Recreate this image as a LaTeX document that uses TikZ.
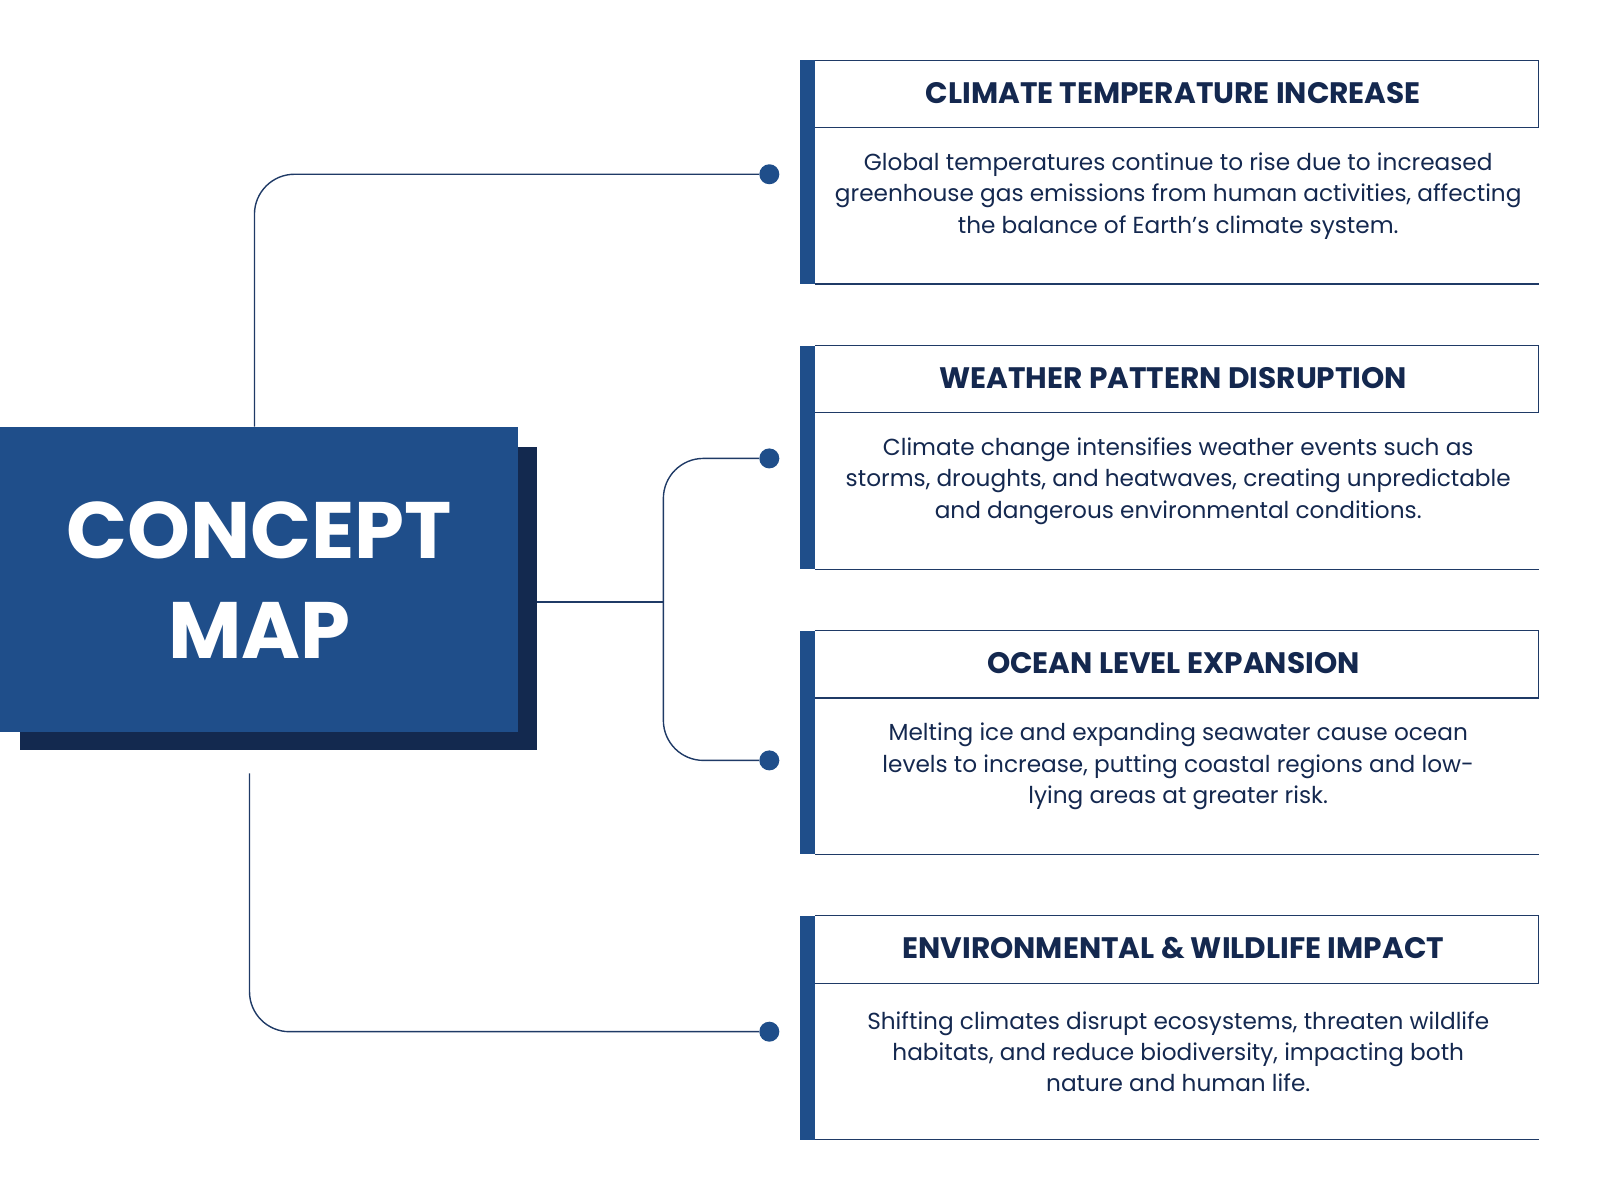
\documentclass[tikz,border=0pt]{standalone}
\usepackage{fontspec}
\setmainfont{Poppins}
\definecolor{mainblue}{HTML}{1F4E8A}
\definecolor{shadowblue}{HTML}{13294F}
\definecolor{navy}{HTML}{14284F}
\definecolor{linec}{HTML}{1F3A66}
\begin{document}
\begin{tikzpicture}[x=0.495pt,y=-0.495pt,
  conn/.style={draw=linec,line width=0.7pt,rounded corners=20pt},
  dot/.style={circle,fill=mainblue,inner sep=0pt,minimum size=10pt},
  head/.style={font=\bfseries\fontsize{14.8}{17}\selectfont,text=navy},
  body/.style={font=\fontsize{11.6}{15.6}\selectfont,text=navy,align=center}]
\useasboundingbox (0,0) rectangle (1616,1212);
% central box
\fill[shadowblue] (20,451) rectangle (542,757);
\node[fill=mainblue,minimum width=258.9pt,minimum height=152.5pt,inner sep=0pt,anchor=north west,
  font=\bfseries\fontsize{40}{50}\selectfont,text=white,align=center] (c) at (0,431) {CONCEPT\\MAP};
% cards
\foreach \i/\t/\b [count=\k] in {0/CLIMATE TEMPERATURE INCREASE/{Global temperatures continue to rise due to increased\\greenhouse gas emissions from human activities, affecting\\the balance of Earth’s climate system.},
 1/WEATHER PATTERN DISRUPTION/{Climate change intensifies weather events such as\\storms, droughts, and heatwaves, creating unpredictable\\and dangerous environmental conditions.},
 2/OCEAN LEVEL EXPANSION/{Melting ice and expanding seawater cause ocean\\levels to increase, putting coastal regions and low-\\lying areas at greater risk.},
 3/ENVIRONMENTAL \& WILDLIFE IMPACT/{Shifting climates disrupt ecosystems, threaten wildlife\\habitats, and reduce biodiversity, impacting both\\nature and human life.}}{
 \pgfmathsetmacro{\top}{61+288*\i}
 \fill[mainblue] (808,\top) rectangle (823,\top+226);
 \draw[linec,line width=0.6pt] (823,\top) -- (1554,\top) -- (1554,\top+68) -- (823,\top+68);
 \draw[linec,line width=0.8pt] (823,\top+226) -- (1554,\top+226);
 \node[head] (h\k) at (1185,\top+33) {\t};
 \node[body] (b\k) at (1190,\top+137) {\b};
}
\node[dot] (d1) at (777,176) {};
\node[dot] (d2) at (777,463) {};
\node[dot] (d3) at (777,768) {};
\node[dot] (d4) at (777,1042) {};
\coordinate (top) at (257,431);
\coordinate (bot) at (252,781);
\coordinate (j) at (670,608);
\draw[conn] (top) -- (257,176) -- (d1.west);
\draw[conn] (bot) -- (252,1042) -- (d4.west);
\draw[linec,line width=0.7pt] (542,608) -- (j);
\draw[conn] (d2.west) -- (670,463) -- (670,768) -- (d3.west);
\end{tikzpicture}
\end{document}
